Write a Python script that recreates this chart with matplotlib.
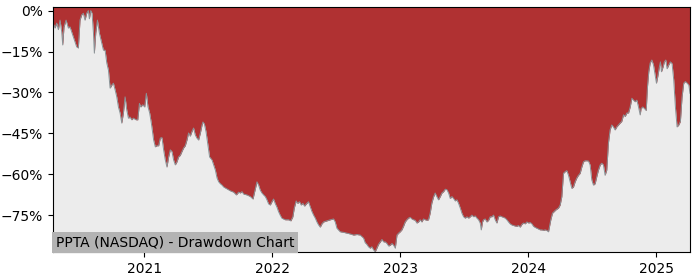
import numpy as np
import pandas as pd
import matplotlib
matplotlib.use('Agg')
import matplotlib.pyplot as plt
import matplotlib.dates as mdates
from matplotlib.ticker import FuncFormatter, MultipleLocator

# Fecha (año decimal) y drawdown en %
t_year = [
    2020.289, 2020.305, 2020.318, 2020.331, 2020.344, 2020.357, 2020.365, 2020.375, 2020.391, 2020.409,
    2020.422, 2020.448, 2020.474, 2020.487, 2020.500, 2020.513, 2020.526, 2020.539, 2020.552, 2020.565,
    2020.573, 2020.584, 2020.594, 2020.605, 2020.612, 2020.623, 2020.636, 2020.651, 2020.670, 2020.683,
    2020.696, 2020.709, 2020.722, 2020.735, 2020.748, 2020.761, 2020.774, 2020.787, 2020.800, 2020.813,
    2020.826, 2020.839, 2020.852, 2020.865, 2020.878, 2020.891, 2020.904, 2020.917, 2020.938, 2020.951,
    2020.964, 2020.974, 2020.990, 2021.003, 2021.016, 2021.029, 2021.042, 2021.055, 2021.073, 2021.086,
    2021.099, 2021.112, 2021.125, 2021.138, 2021.151, 2021.164, 2021.177, 2021.190, 2021.203, 2021.216,
    2021.229, 2021.242, 2021.255, 2021.268, 2021.281, 2021.294, 2021.307, 2021.320, 2021.333, 2021.346,
    2021.359, 2021.372, 2021.385, 2021.398, 2021.411, 2021.424, 2021.438, 2021.451, 2021.458, 2021.469,
    2021.482, 2021.495, 2021.510, 2021.529, 2021.542, 2021.555, 2021.568, 2021.581, 2021.594, 2021.607,
    2021.620, 2021.646, 2021.672, 2021.698, 2021.719, 2021.737, 2021.750, 2021.763, 2021.776, 2021.802,
    2021.828, 2021.849, 2021.862, 2021.880, 2021.893, 2021.906, 2021.919, 2021.932, 2021.945, 2021.958,
    2021.971, 2021.984, 2021.997, 2022.010, 2022.023, 2022.036, 2022.049, 2022.062, 2022.075, 2022.101,
    2022.127, 2022.145, 2022.161, 2022.172, 2022.187, 2022.198, 2022.213, 2022.226, 2022.239, 2022.252,
    2022.270, 2022.283, 2022.297, 2022.310, 2022.323, 2022.336, 2022.349, 2022.362, 2022.375, 2022.388,
    2022.401, 2022.427, 2022.453, 2022.479, 2022.492, 2022.505, 2022.531, 2022.557, 2022.583, 2022.609,
    2022.635, 2022.661, 2022.687, 2022.713, 2022.726, 2022.739, 2022.752, 2022.765, 2022.778, 2022.791,
    2022.804, 2022.817, 2022.830, 2022.844, 2022.857, 2022.870, 2022.883, 2022.896, 2022.909, 2022.922,
    2022.935, 2022.948, 2022.961, 2022.974, 2022.987, 2023.000, 2023.013, 2023.026, 2023.039, 2023.052,
    2023.065, 2023.078, 2023.091, 2023.104, 2023.117, 2023.130, 2023.143, 2023.156, 2023.169, 2023.182,
    2023.195, 2023.208, 2023.221, 2023.234, 2023.247, 2023.260, 2023.273, 2023.286, 2023.299, 2023.313,
    2023.326, 2023.339, 2023.352, 2023.365, 2023.378, 2023.391, 2023.404, 2023.417, 2023.430, 2023.443,
    2023.456, 2023.469, 2023.482, 2023.495, 2023.508, 2023.521, 2023.534, 2023.547, 2023.560, 2023.573,
    2023.586, 2023.599, 2023.612, 2023.625, 2023.633, 2023.643, 2023.651, 2023.664, 2023.677, 2023.690,
    2023.703, 2023.716, 2023.729, 2023.742, 2023.755, 2023.768, 2023.781, 2023.794, 2023.807, 2023.820,
    2023.833, 2023.846, 2023.859, 2023.872, 2023.885, 2023.898, 2023.911, 2023.924, 2023.937, 2023.950,
    2023.963, 2023.976, 2023.990, 2024.003, 2024.016, 2024.029, 2024.042, 2024.055, 2024.068, 2024.081,
    2024.094, 2024.107, 2024.120, 2024.133, 2024.146, 2024.159, 2024.167, 2024.177, 2024.190, 2024.203,
    2024.216, 2024.237, 2024.250, 2024.263, 2024.276, 2024.289, 2024.302, 2024.315, 2024.328, 2024.341,
    2024.354, 2024.367, 2024.380, 2024.393, 2024.406, 2024.419, 2024.432, 2024.445, 2024.458, 2024.471,
    2024.484, 2024.497, 2024.510, 2024.523, 2024.536, 2024.549, 2024.563, 2024.575, 2024.588, 2024.601,
    2024.614, 2024.627, 2024.640, 2024.653, 2024.666, 2024.679, 2024.692, 2024.705, 2024.718, 2024.731,
    2024.745, 2024.758, 2024.771, 2024.784, 2024.797, 2024.810, 2024.823, 2024.836, 2024.849, 2024.862,
    2024.875, 2024.882, 2024.895, 2024.909, 2024.922, 2024.932, 2024.942, 2024.953, 2024.966, 2024.979,
    2024.992, 2025.000, 2025.010, 2025.023, 2025.031, 2025.039, 2025.052, 2025.062, 2025.073, 2025.083,
    2025.096, 2025.109, 2025.122, 2025.135, 2025.148, 2025.161, 2025.174, 2025.187, 2025.200, 2025.213,
    2025.226, 2025.240, 2025.253, 2025.262,
]

dd_pct = [
    -4.5, -6.4, -4.6, -7.0, -3.5, -7.8, -12.6, -6.0, -3.5, -6.4,
    -6.0, -9.7, -13.3, -13.7, -3.5, -1.6, -1.0, -3.5, -1.0, 0.0,
    -3.0, 0.0, -1.0, -8.2, -15.6, -8.2, -3.5, -8.2, -12.0, -14.5,
    -14.5, -19.2, -21.8, -28.4, -27.3, -26.6, -29.0, -31.6, -35.3, -37.5,
    -41.2, -37.5, -31.6, -36.4, -39.4, -39.0, -40.0, -39.4, -40.0, -40.0,
    -34.0, -35.3, -34.5, -35.3, -30.3, -35.3, -37.5, -41.2, -47.4, -49.9,
    -49.5, -49.5, -46.7, -46.5, -51.0, -54.7, -57.3, -53.6, -51.0, -51.6,
    -54.7, -56.5, -55.4, -53.6, -53.0, -51.6, -50.3, -49.5, -47.4, -44.8,
    -46.0, -44.3, -43.0, -45.5, -46.7, -47.4, -44.8, -41.9, -40.8, -41.5,
    -44.3, -48.5, -53.6, -54.7, -56.5, -58.4, -61.3, -62.7, -63.4, -63.9,
    -64.6, -65.3, -66.0, -66.5, -67.5, -66.5, -66.8, -66.3, -67.2, -67.5,
    -68.1, -69.0, -66.3, -62.7, -63.9, -65.8, -66.8, -67.5, -68.1, -69.3,
    -70.8, -71.2, -70.0, -69.0, -70.6, -71.9, -73.6, -74.9, -76.0, -76.6,
    -76.6, -77.0, -75.5, -72.3, -69.7, -70.6, -70.0, -71.2, -70.6, -71.6,
    -70.6, -70.0, -71.9, -73.6, -74.9, -76.0, -77.4, -78.5, -79.3, -78.1,
    -77.4, -77.0, -76.6, -76.3, -77.4, -79.7, -81.0, -81.2, -81.5, -81.8,
    -82.2, -82.0, -82.2, -83.3, -85.0, -85.6, -86.5, -87.0, -86.5, -87.6,
    -88.3, -87.0, -85.6, -84.7, -83.8, -84.7, -84.7, -85.3, -86.2, -85.9,
    -85.3, -85.9, -87.0, -82.2, -81.5, -81.0, -80.3, -79.0, -77.4, -76.6,
    -76.0, -75.7, -76.3, -76.6, -76.8, -77.8, -77.4, -76.6, -77.4, -76.3,
    -76.6, -76.8, -76.6, -74.2, -70.5, -68.3, -66.8, -68.1, -69.3, -68.1,
    -66.8, -66.3, -65.4, -65.6, -66.8, -68.8, -68.1, -68.8, -69.7, -69.3,
    -70.6, -72.3, -74.2, -75.5, -76.0, -75.5, -76.0, -75.5, -74.9, -75.5,
    -75.2, -76.0, -76.6, -77.8, -80.3, -77.4, -76.6, -76.3, -77.4, -76.8,
    -75.5, -75.5, -74.9, -76.6, -77.8, -75.5, -75.2, -75.5, -75.7, -76.0,
    -76.6, -77.4, -78.1, -78.5, -78.7, -78.9, -79.0, -78.7, -79.3, -78.3,
    -77.8, -78.1, -77.4, -77.8, -77.6, -78.1, -79.0, -79.4, -79.7, -80.0,
    -80.3, -80.3, -80.5, -80.3, -80.5, -81.0, -79.0, -76.6, -74.2, -73.6,
    -73.0, -72.3, -71.2, -68.1, -59.6, -59.0, -58.6, -60.3, -62.7, -65.1,
    -64.6, -62.7, -61.3, -60.3, -59.6, -57.3, -55.4, -55.0, -55.0, -55.1,
    -56.5, -62.0, -63.9, -63.4, -60.8, -58.4, -56.5, -55.9, -56.5, -60.3,
    -58.4, -48.5, -43.7, -41.9, -42.6, -43.7, -42.6, -41.9, -41.2, -40.6,
    -38.2, -38.8, -37.5, -37.5, -35.3, -32.1, -32.8, -33.4, -32.8, -35.3,
    -38.2, -35.9, -35.3, -35.9, -36.6, -27.9, -22.4, -19.2, -18.1, -19.9,
    -23.6, -26.6, -24.2, -20.6, -18.8, -22.4, -20.6, -18.8, -18.1, -21.3,
    -19.9, -18.8, -19.4, -25.4, -35.3, -42.6, -41.9, -40.6, -31.6, -26.6,
    -26.0, -26.6, -27.3, -30.3,
]

ticker_label = 'PPTA (NASDAQ) - Drawdown Chart'

# Convertir año decimal a fechas
years = np.array(t_year)
base = pd.to_datetime(np.floor(years).astype(int).astype(str) + '-01-01')
dates = base + pd.to_timedelta((years - np.floor(years)) * 365.25, unit='D')
dd = np.array(dd_pct)

fig = plt.figure(figsize=(7, 2.8), dpi=100)
ax = fig.add_axes([0.0757, 0.1, 0.91, 0.875])

ymin = dd.min() - 0.1
ax.set_facecolor('#b03132')
ax.fill_between(dates, dd, ymin, color='#ececec', linewidth=0)
ax.plot(dates, dd, color='#8a9296', linewidth=0.7)

ax.set_xlim(dates[0], dates[-1])
ax.set_ylim(ymin, 1.3)

ax.yaxis.set_major_locator(MultipleLocator(15))
ax.yaxis.set_major_formatter(FuncFormatter(lambda v, p: f'{int(round(v))}%'.replace('-', '\u2212')))
ax.xaxis.set_major_locator(mdates.YearLocator())
ax.xaxis.set_major_formatter(mdates.DateFormatter('%Y'))

ax.text(0.004, 0.012, ticker_label, transform=ax.transAxes, fontsize=10,
        ha='left', va='bottom',
        bbox=dict(facecolor='#b3b3b3', edgecolor='none', pad=2.5))

fig.savefig('out.png', dpi=100)
